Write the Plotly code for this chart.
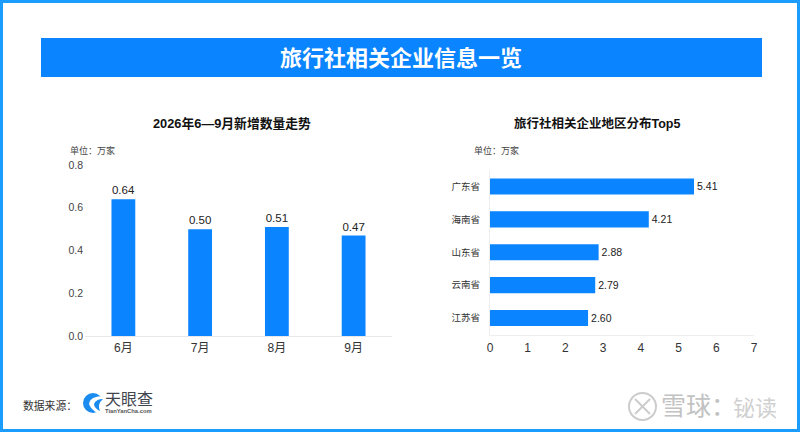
import plotly.graph_objects as go

months = ['6月', '7月', '8月', '9月']
new_counts = [0.64, 0.50, 0.51, 0.47]
new_labels = ['0.64', '0.50', '0.51', '0.47']

provinces = ['广东省', '海南省', '山东省', '云南省', '江苏省']
province_counts = [5.41, 4.21, 2.88, 2.79, 2.60]
province_labels = ['5.41', '4.21', '2.88', '2.79', '2.60']

W, H = 800, 432
BLUE = '#0a84ff'
BORDER = '#1a9dff'
FONT = 'Liberation Sans, Noto Sans CJK SC, sans-serif'


def px(x):
    return x / W


def py(y):
    return 1 - y / H


def path(*parts):
    # parts are svg commands or (x, y) pixel pairs, converted to paper coords
    out = []
    for p in parts:
        out.append(p if isinstance(p, str) else f'{px(p[0]):.5f},{py(p[1]):.5f}')
    return ' '.join(out)


fig = go.Figure()

fig.add_trace(go.Bar(
    x=months, y=new_counts, xaxis='x', yaxis='y', width=0.31,
    marker=dict(color=BLUE, line=dict(width=0)),
    text=new_labels, textposition='outside', cliponaxis=False,
    textfont=dict(size=11.5, color='#222222'),
))
fig.add_trace(go.Bar(
    x=province_counts, y=provinces, xaxis='x2', yaxis='y2', orientation='h', width=0.49,
    marker=dict(color=BLUE, line=dict(width=0)),
    text=province_labels, textposition='outside', cliponaxis=False,
    textfont=dict(size=10.5, color='#222222'),
))


def note(x, y, text, size, color='#333333', anchor='center', weight=None):
    fig.add_annotation(
        x=px(x), y=py(y), xref='paper', yref='paper', text=text, showarrow=False,
        xanchor=anchor, yanchor='middle',
        font=dict(size=size, color=color, family=FONT, weight=weight),
    )


note(401, 58, '旅行社相关企业信息一览', 22, 'white', weight=600)
note(232, 124, '2026年6—9月新增数量走势', 12.8, '#111111', weight=600)
note(596.5, 124, '旅行社相关企业地区分布Top5', 12.5, '#111111', weight=600)
note(68, 150.5, '单位：万家', 9, '#444444', 'left')
note(472, 150.5, '单位：万家', 9, '#444444', 'left')
note(21, 405, '数据来源：', 10.8, '#333333', 'left')
note(103, 399, '天眼查', 16, '#3f4650', 'left')
note(103, 411, 'TianYanCha.com', 5.8, '#555555', 'left', weight=600)
note(659, 406, '雪球：', 25, '#c2c2c2', 'left')
note(731, 408, '铋读', 22, '#d0d0d0', 'left')

shapes = [
    # outer frame and title banner
    dict(type='rect', xref='paper', yref='paper', x0=px(1.5), x1=px(798.5), y0=py(1.5), y1=py(430.5),
         line=dict(color=BORDER, width=3), fillcolor='rgba(0,0,0,0)', layer='below'),
    dict(type='rect', xref='paper', yref='paper', x0=px(41), x1=px(762), y0=py(38), y1=py(77),
         line=dict(width=0), fillcolor=BLUE, layer='below'),
    # logo
    dict(type='circle', xref='paper', yref='paper', x0=px(83), x1=px(103), y0=py(393), y1=py(413),
         line=dict(width=0), fillcolor='#1a8cf0'),
    dict(type='path', xref='paper', yref='paper', line=dict(width=0), fillcolor='white',
         path=path('M', (104, 396), 'Q', (90, 396), (89, 404), 'Q', (91, 410), (99, 414),
                   'L', (104, 414), 'Z')),
    dict(type='path', xref='paper', yref='paper', line=dict(width=0), fillcolor='#1a8cf0',
         path=path('M', (94, 404), 'Q', (96, 399), (103, 399), 'Q', (97, 404), (100, 411),
                   'Q', (94, 408), (94, 404), 'Z')),
    # watermark badge
    dict(type='circle', xref='paper', yref='paper', x0=px(629), x1=px(656), y0=py(393), y1=py(420),
         line=dict(color='#cccccc', width=2), fillcolor='rgba(0,0,0,0)'),
    dict(type='line', xref='paper', yref='paper', x0=px(635), x1=px(650), y0=py(399), y1=py(414),
         line=dict(color='#cccccc', width=2)),
    dict(type='line', xref='paper', yref='paper', x0=px(650), x1=px(635), y0=py(399), y1=py(414),
         line=dict(color='#cccccc', width=2)),
]

fig.update_layout(
    width=W, height=H, margin=dict(l=0, r=0, t=0, b=0, autoexpand=False),
    paper_bgcolor='white', plot_bgcolor='white', showlegend=False,
    font=dict(family=FONT), shapes=shapes,
    xaxis=dict(domain=[px(85), px(392)], anchor='y', showgrid=False, ticks='',
               showline=True, linecolor='#e6e8ec', linewidth=1, automargin=False, ticklabelstandoff=1,
               tickfont=dict(size=12, color='#333333', family=FONT)),
    yaxis=dict(domain=[py(336), py(165)], anchor='x', range=[0, 0.8], tickvals=[0, 0.2, 0.4, 0.6, 0.8],
               tickformat='.1f', showgrid=False, zeroline=False, ticks='', showline=False, automargin=False,
               ticklabelstandoff=1, tickfont=dict(size=10.5, color='#444444', family=FONT)),
    xaxis2=dict(domain=[px(490), px(754)], anchor='y2', range=[0, 7], dtick=1, showgrid=False,
                zeroline=False, ticks='', showline=True, linecolor='#eeeeee', linewidth=1, automargin=False,
                ticklabelstandoff=2, tickfont=dict(size=12, color='#333333', family=FONT)),
    yaxis2=dict(domain=[py(334.5), py(170)], anchor='x2', autorange='reversed', showgrid=False, ticks='',
                showline=True, linecolor='#eeeeee', linewidth=1, ticklen=0, automargin=False,
                ticklabelstandoff=7, tickfont=dict(size=9.5, color='#333333', family=FONT)),
)

fig.write_html("out.html", config=dict(displayModeBar=False),
               post_script="document.body.style.margin='0';")
